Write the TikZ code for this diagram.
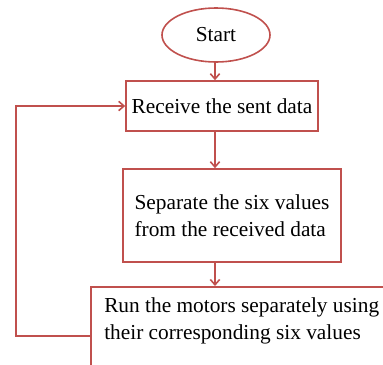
\documentclass[tikz,border=0pt]{standalone}
\usepackage{fontspec}
\setmainfont{Liberation Serif}
\usetikzlibrary{shapes.geometric, arrows.meta}

\definecolor{flowred}{RGB}{192,80,77}

\tikzset{
  flowline/.style={draw=flowred, line width=1.2pt},
  flowarrow/.style={flowline, -{Straight Barb[length=4pt,width=7pt]}},
  process/.style={flowline, rectangle, inner sep=0pt, font=\fontsize{16}{20}\selectfont},
  terminal/.style={flowline, ellipse, inner sep=0pt, font=\fontsize{16}{20}\selectfont}
}

\begin{document}
\begin{tikzpicture}[x=0.75pt, y=-0.75pt]
  \useasboundingbox (0,0) rectangle (383,365);
  \clip (0,0) rectangle (383,365);

  % boxes of the loop
  \node[terminal, minimum width=81pt, minimum height=40.5pt] (start) at (216,35) {Start};
  \node[process, minimum width=144pt, minimum height=37.5pt] (receive) at (222,106) {Receive the sent data};
  \node[process, minimum width=163.5pt, minimum height=69.75pt, align=left] (separate) at (232,215.5)
    {Separate the six values\\from the received data};
  \node[process, minimum width=240pt, minimum height=90pt, anchor=north west] (run) at (90,286) {};
  \node[anchor=north west, align=left, inner sep=0pt, font=\fontsize{16}{20.3}\selectfont] (runtext) at (104,297)
    {Run the motors separately using\\their corresponding six values};

  % arrows down the middle
  \coordinate (spine) at (215,0);
  \draw[flowarrow] (start.south -| spine) -- (receive.north -| spine);
  \draw[flowarrow] (receive.south -| spine) -- (separate.north -| spine);
  \draw[flowarrow] (separate.south -| spine) -- (run.north -| spine);

  % feedback back to the top
  \coordinate (back) at (16,336);
  \draw[flowarrow] (run.west |- back) -- (back) |- (receive.west);
\end{tikzpicture}
\end{document}
